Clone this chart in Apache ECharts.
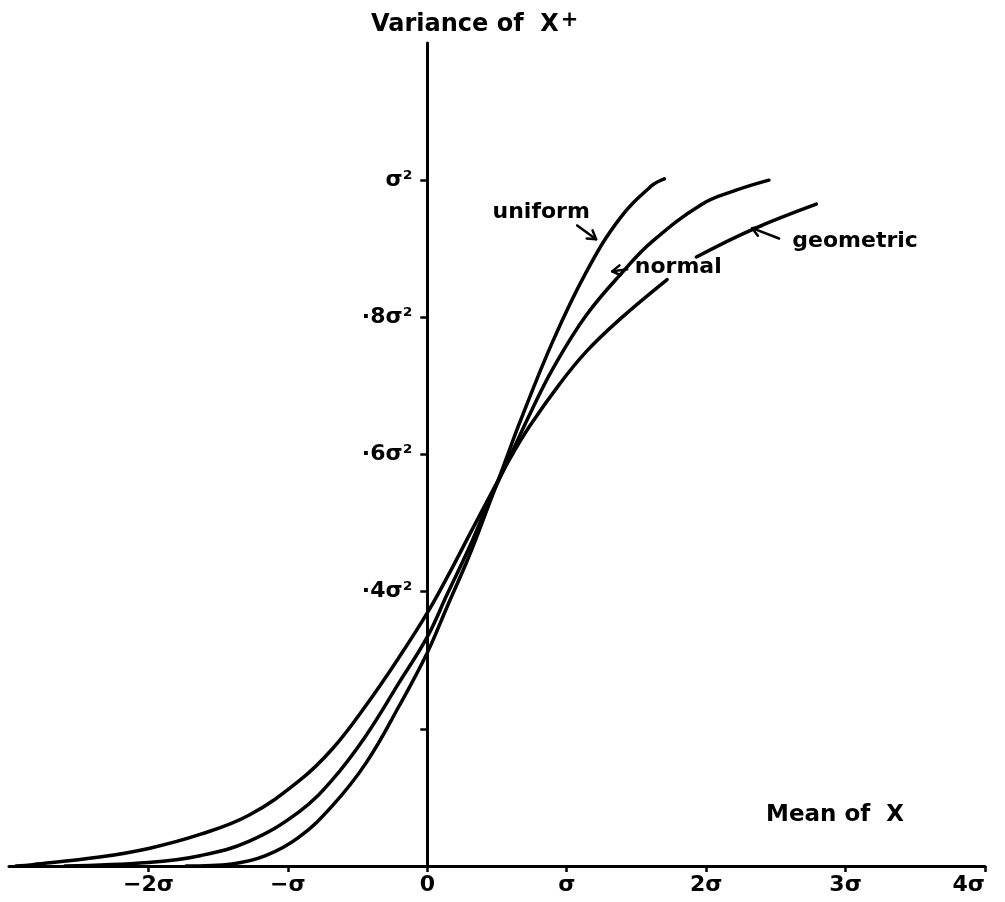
<!DOCTYPE html>
<html><head><meta charset="utf-8">
<script src="https://cdn.jsdelivr.net/npm/echarts@6/dist/echarts.min.js"></script>
<style>html,body{margin:0;padding:0;background:#fff}#c{width:1005px;height:902px}</style>
</head><body><div id="c"></div>
<script>
// ---- data ----
const xTickValues = [-2, -1, 0, 1, 2, 3, 4];
const xTickLabels = ['\u22122\u03c3', '\u2212\u03c3', '0', '\u03c3', '2\u03c3', '3\u03c3', '4\u03c3'];
const yTickValues = [0.2, 0.4, 0.6, 0.8, 1.0];
const yLabelValues = [0.4, 0.6, 0.8, 1.0];
const yTickLabels = ['\u00b74\u03c3\u00b2', '\u00b76\u03c3\u00b2', '\u00b78\u03c3\u00b2', '\u03c3\u00b2'];

const uniformX = [-1.73, -1.40, -1.16, -0.92, -0.68, -0.44, -0.20, 0.00, 0.14, 0.30, 0.44, 0.55, 0.66, 0.90, 1.14, 1.38, 1.61, 1.70];
const uniformY = [0.000, 0.003, 0.015, 0.042, 0.088, 0.150, 0.234, 0.311, 0.377, 0.452, 0.526, 0.585, 0.645, 0.765, 0.866, 0.944, 0.992, 1.002];

const normalX = [-2.60, -2.00, -1.63, -1.28, -0.92, -0.68, -0.44, -0.20, 0.00, 0.14, 0.30, 0.44, 0.60, 0.75, 0.90, 1.14, 1.41, 1.61, 1.97, 2.21, 2.45];
const normalY = [0.000, 0.005, 0.015, 0.036, 0.079, 0.126, 0.190, 0.268, 0.334, 0.395, 0.464, 0.530, 0.600, 0.665, 0.725, 0.803, 0.868, 0.910, 0.965, 0.985, 1.000];

const geometricX = [-2.95, -2.83, -2.35, -1.99, -1.63, -1.28, -0.92, -0.68, -0.44, -0.20, 0.00, 0.14, 0.30, 0.44, 0.59, 0.73, 0.95, 1.14, 1.38, 1.72, 1.82, 1.93, 2.33, 2.79];
const geometricY = [0.000, 0.002, 0.013, 0.026, 0.046, 0.074, 0.124, 0.171, 0.234, 0.305, 0.369, 0.420, 0.482, 0.536, 0.593, 0.640, 0.703, 0.750, 0.797, 0.855, null, 0.888, 0.928, 0.965];

const curveNames = ['uniform', 'normal', 'geometric'];
// annotation placement in data coordinates: label centre, arrow tail, arrow head
const labelAt = [[0.817, 0.953], [1.80, 0.873], [3.068, 0.911]];
const arrowFrom = [[1.075, 0.934], [1.434, 0.870], [2.523, 0.915]];
const arrowTo = [[1.211, 0.914], [1.326, 0.867], [2.330, 0.930]];

// ---- chart ----
const FONT = 'DejaVu Sans';
const chart = echarts.init(document.getElementById('c'), null, {renderer: 'canvas'});
const pairs = (xs, ys) => xs.map((x, i) => [x, ys[i]]);
const near = (a, b) => Math.abs(a - b) < 1e-6;
const curveStyle = {color: '#000', width: 3.5, cap: 'round', join: 'round'};

function lineSeries(name, xs, ys) {
  return {
    name, type: 'line', data: pairs(xs, ys), showSymbol: false, symbol: 'none',
    smooth: 0.4, connectNulls: false, clip: false, lineStyle: curveStyle, z: 3
  };
}

const gridOpt = {left: 9, right: 20, top: 43, bottom: 36, containLabel: false, outerBoundsMode: 'none'};
chart.setOption({
  animation: false,
  backgroundColor: '#fff',
  grid: gridOpt,
  xAxis: {
    type: 'value', min: -3, max: 4,
    axisLine: {show: true, onZero: true, lineStyle: {color: '#000', width: 3}},
    splitLine: {show: false},
    axisTick: {show: true, length: 6, customValues: xTickValues, lineStyle: {color: '#000', width: 2.5}},
    axisLabel: {
      customValues: xTickValues, margin: 8, color: '#000', fontFamily: FONT, fontWeight: 'bold', fontSize: 22,
      alignMaxLabel: 'right',
      formatter: v => { const i = xTickValues.findIndex(t => near(t, v)); return i < 0 ? '' : xTickLabels[i]; }
    }
  },
  yAxis: {
    type: 'value', min: 0, max: 1.2, position: 'left', offset: 0,
    axisLine: {show: true, onZero: false, lineStyle: {color: '#000', width: 3}},
    splitLine: {show: false},
    axisTick: {show: true, length: 7, customValues: yTickValues, lineStyle: {color: '#000', width: 2.5}},
    axisLabel: {
      customValues: yLabelValues, margin: 15, color: '#000', fontFamily: FONT, fontWeight: 'bold', fontSize: 22,
      formatter: v => { const i = yLabelValues.findIndex(t => near(t, v)); return i < 0 ? '' : yTickLabels[i]; }
    }
  },
  series: [
    lineSeries(curveNames[0], uniformX, uniformY),
    lineSeries(curveNames[1], normalX, normalY),
    lineSeries(curveNames[2], geometricX, geometricY)
  ]
});

const px = p => chart.convertToPixel({gridIndex: 0}, p);
// place the vertical axis (line, ticks and labels) at mean = 0
const zeroX = px([0, 0])[0];
chart.setOption({yAxis: {offset: -(zeroX - gridOpt.left)}});

// ---- titles and annotations ----
const textStyle = (t, size) => ({text: t, fill: '#000', font: 'bold ' + size + 'px "' + FONT + '"'});
const graphics = [
  {type: 'text', left: 371, top: 3, style: {
    text: '{a|Variance of  X}{b|+}',
    rich: {
      a: {fontFamily: FONT, fontWeight: 'bold', fontSize: 24, fill: '#000', lineHeight: 34, verticalAlign: 'bottom'},
      b: {fontFamily: FONT, fontWeight: 'bold', fontSize: 21, fill: '#000', lineHeight: 34, verticalAlign: 'top', padding: [7, 0, 0, 2]}
    }
  }},
  {type: 'text', left: 766, top: 804, style: textStyle('Mean of  X', 23)}
];
curveNames.forEach((name, i) => {
  const c = px(labelAt[i]);
  graphics.push({type: 'text', x: c[0], y: c[1],
    style: Object.assign(textStyle(name, 22), {align: 'center', verticalAlign: 'middle'})});
  const a = px(arrowFrom[i]), b = px(arrowTo[i]);
  const dx = b[0] - a[0], dy = b[1] - a[1], L = Math.hypot(dx, dy) || 1;
  const ux = dx / L, uy = dy / L, nx = -uy, ny = ux;
  graphics.push({type: 'line', shape: {x1: a[0], y1: a[1], x2: b[0], y2: b[1]},
    style: {stroke: '#000', lineWidth: 2.5, lineCap: 'round'}});
  graphics.push({type: 'polyline', shape: {points: [
      [b[0] - 8 * ux + 5 * nx, b[1] - 8 * uy + 5 * ny], b, [b[0] - 8 * ux - 5 * nx, b[1] - 8 * uy - 5 * ny]]},
    style: {stroke: '#000', lineWidth: 2.5, fill: null, lineCap: 'round', lineJoin: 'round'}});
});
chart.setOption({graphic: graphics});
</script>
</body></html>
